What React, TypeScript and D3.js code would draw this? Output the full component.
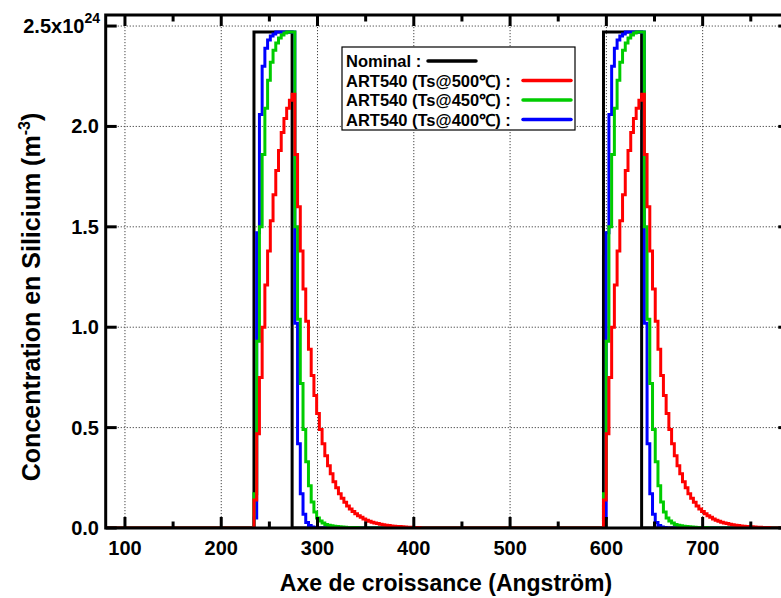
import React from 'react';
import * as d3 from 'd3';

const W = 781;
const H = 598;
const FONT = '"Liberation Sans", Arial, Helvetica, sans-serif';

// Axis domain (Angström, 1e24 m^-3)
const X_MIN = 80;
const X_MAX = 790;
const Y_MAX = 2.555;

const xMajorTicks = [100, 200, 300, 400, 500, 600, 700];
const xMinorTicks = [150, 250, 350, 450, 550, 650, 750];
const yMajorTicks = [0, 0.5, 1.0, 1.5, 2.0, 2.5];
const yTickLabels = ['0.0', '0.5', '1.0', '1.5', '2.0', '2.5x10'];
const yTopExponent = '24';

// Structure: Si-doped wells, one value per monolayer
const LAYER_THICKNESS = 2.83; // Angström per monolayer
const WELL_STARTS = [234, 597];
const NOMINAL_LEVEL = 2.47;
const NOMINAL_LAYERS = 14;

// Segregated profiles read per monolayer, starting at the well start
const profile500 = [
  0.14, 0.47, 0.75, 1.0, 1.21, 1.38, 1.53, 1.66, 1.78, 1.88, 1.97, 2.04, 2.09, 2.13, 2.16,
  1.86, 1.6, 1.38, 1.19, 1.03, 0.89, 0.76, 0.66, 0.57, 0.49, 0.42, 0.36, 0.31, 0.27, 0.23,
  0.2, 0.17, 0.148, 0.128, 0.11, 0.095, 0.082, 0.071, 0.061, 0.053, 0.045, 0.039, 0.034,
  0.029, 0.025, 0.022, 0.019, 0.016, 0.014, 0.012, 0.01, 0.009, 0.008, 0.007, 0.006, 0.005,
  0.004, 0.004, 0.003, 0.003, 0.002,
];
const profile450 = [
  0.17, 0.93, 1.5, 1.86, 2.09, 2.23, 2.32, 2.38, 2.415, 2.44, 2.455, 2.465, 2.47, 2.47, 2.47,
  1.5, 1.04, 0.72, 0.49, 0.33, 0.21, 0.13, 0.08, 0.05, 0.035, 0.025, 0.018, 0.014, 0.011,
  0.009, 0.007, 0.006, 0.005, 0.004, 0.003, 0.003, 0.002, 0.002, 0.001,
];
const profile400 = [
  0.05, 1.47, 2.06, 2.3, 2.39, 2.43, 2.45, 2.46, 2.47, 2.47, 2.47, 2.47, 2.47, 2.47, 2.47,
  1.02, 0.42, 0.17, 0.068, 0.028, 0.012, 0.005, 0.002,
];

const legendLabels = [
  'Nominal :',
  'ART540 (Ts@500\u2103) :',
  'ART540 (Ts@450\u2103) :',
  'ART540 (Ts@400\u2103) :',
];
const legendColors = ['#000000', '#ff0000', '#00cc00', '#0000ff'];

const xAxisTitle = 'Axe de croissance (Angstr\u00f6m)';
const yAxisTitle = 'Concentration en Silicium (m';
const yAxisExp = '-3';

type Pt = [number, number];

function buildProfile(values: number[]): Pt[] {
  const pts: Pt[] = [[X_MIN, 0]];
  WELL_STARTS.forEach((s) => {
    values.forEach((v, k) => pts.push([s + k * LAYER_THICKNESS, v]));
    pts.push([s + values.length * LAYER_THICKNESS, 0]);
  });
  const kept = pts.filter((p) => p[0] < X_MAX);
  kept.push([X_MAX, kept[kept.length - 1][1]]);
  return kept;
}

function buildNominal(): Pt[] {
  const pts: Pt[] = [[X_MIN, 0]];
  WELL_STARTS.forEach((s) => {
    pts.push([s, NOMINAL_LEVEL]);
    pts.push([s + NOMINAL_LAYERS * LAYER_THICKNESS, 0]);
  });
  pts.push([X_MAX, 0]);
  return pts;
}

export default function App() {
  const x = d3.scaleLinear().domain([X_MIN, X_MAX]).range([105.7, 789.3]);
  const y = d3.scaleLinear().domain([0, Y_MAX]).range([528, 15]);
  const line = d3
    .line<Pt>()
    .x((d) => x(d[0]))
    .y((d) => y(d[1]))
    .curve(d3.curveStepAfter);

  const left = x(X_MIN);
  const right = x(X_MAX);
  const top = y(Y_MAX);
  const bottom = y(0);

  const series = [
    { pts: buildNominal(), color: legendColors[0] },
    { pts: buildProfile(profile400), color: legendColors[3] },
    { pts: buildProfile(profile450), color: legendColors[2] },
    { pts: buildProfile(profile500), color: legendColors[1] },
  ];

  const majorLen = 11;
  const minorLen = 6.5;
  const grid = '#444';

  const legX = 342;
  const legY = 47;
  const legW = 233;
  const legH = 83;
  const rowY = [61, 80.5, 100, 119.5];

  return (
    <svg
      width={W}
      height={H}
      style={{ position: 'absolute', left: 0, top: 0, background: '#fff' }}
      fontFamily={FONT}
      fontWeight="bold"
    >
      <rect x={0} y={0} width={W} height={H} fill="#fff" />
      <defs>
        <clipPath id="plot">
          <rect x={left} y={top} width={right - left} height={bottom - top} />
        </clipPath>
      </defs>
      {/* grid */}
      {xMajorTicks.map((t) => (
        <line key={'gx' + t} x1={x(t)} x2={x(t)} y1={top} y2={bottom} stroke={grid} strokeWidth={1} strokeDasharray="1.2 1.8" />
      ))}
      {yMajorTicks.filter((t) => t > 0).map((t) => (
        <line key={'gy' + t} x1={left} x2={right} y1={y(t)} y2={y(t)} stroke={grid} strokeWidth={1} strokeDasharray="1.2 1.8" />
      ))}

      {/* legend box (white, hides grid) */}
      <rect x={legX} y={legY} width={legW} height={legH} fill="#fff" stroke="#000" strokeWidth={1.2} />

      {/* data */}
      <g clipPath="url(#plot)">
        {series.map((s, i) => (
          <path key={i} d={line(s.pts) || ''} fill="none" stroke={s.color} strokeWidth={3} strokeLinejoin="miter" />
        ))}
      </g>

      {/* ticks */}
      {xMajorTicks.map((t) => (
        <g key={'tx' + t}>
          <line x1={x(t)} x2={x(t)} y1={bottom} y2={bottom - majorLen} stroke="#000" strokeWidth={3} />
          <line x1={x(t)} x2={x(t)} y1={top} y2={top + majorLen} stroke="#000" strokeWidth={3} />
        </g>
      ))}
      {xMinorTicks.map((t) => (
        <g key={'tmx' + t}>
          <line x1={x(t)} x2={x(t)} y1={bottom} y2={bottom - minorLen} stroke="#000" strokeWidth={3} />
          <line x1={x(t)} x2={x(t)} y1={top} y2={top + minorLen} stroke="#000" strokeWidth={3} />
        </g>
      ))}
      {yMajorTicks.map((t) => (
        <g key={'ty' + t}>
          <line x1={left} x2={left + majorLen} y1={y(t)} y2={y(t)} stroke="#000" strokeWidth={3} />
          <line x1={right} x2={right - majorLen} y1={y(t)} y2={y(t)} stroke="#000" strokeWidth={3} />
        </g>
      ))}

      {/* frame */}
      <rect x={left} y={top} width={right - left} height={bottom - top} fill="none" stroke="#000" strokeWidth={3} />

      {/* legend content */}
      {legendLabels.map((lab, i) => (
        <text key={'lt' + i} x={346} y={rowY[i] + 6} fontSize={16.5} fill="#000">
          {lab}
        </text>
      ))}
      <line x1={428} x2={476} y1={rowY[0]} y2={rowY[0]} stroke={legendColors[0]} strokeWidth={3.5} strokeLinecap="round" />
      {[1, 2, 3].map((i) => (
        <line key={'ll' + i} x1={523} x2={571} y1={rowY[i]} y2={rowY[i]} stroke={legendColors[i]} strokeWidth={3.5} strokeLinecap="round" />
      ))}

      {/* tick labels */}
      {xMajorTicks.map((t) => (
        <text key={'lx' + t} x={x(t)} y={555} fontSize={20} textAnchor="middle" fill="#000">
          {t}
        </text>
      ))}
      {yMajorTicks.map((t, i) =>
        i < yMajorTicks.length - 1 ? (
          <text key={'ly' + t} x={99} y={y(t) + 7} fontSize={20} textAnchor="end" fill="#000">
            {yTickLabels[i]}
          </text>
        ) : (
          <text key={'ly' + t} x={100} y={y(t) + 7} fontSize={20} textAnchor="end" fill="#000">
            {yTickLabels[i]}
            <tspan fontSize={14} dy={-10}>
              {yTopExponent}
            </tspan>
          </text>
        )
      )}

      {/* axis titles */}
      <text x={446} y={591} fontSize={23} textAnchor="middle" fill="#000">
        {xAxisTitle}
      </text>
      <text transform="translate(40,297) rotate(-90)" fontSize={25} textAnchor="middle" fill="#000">
        {yAxisTitle}
        <tspan fontSize={16} dy={-10}>
          {yAxisExp}
        </tspan>
        <tspan dy={10}>)</tspan>
      </text>
    </svg>
  );
}
